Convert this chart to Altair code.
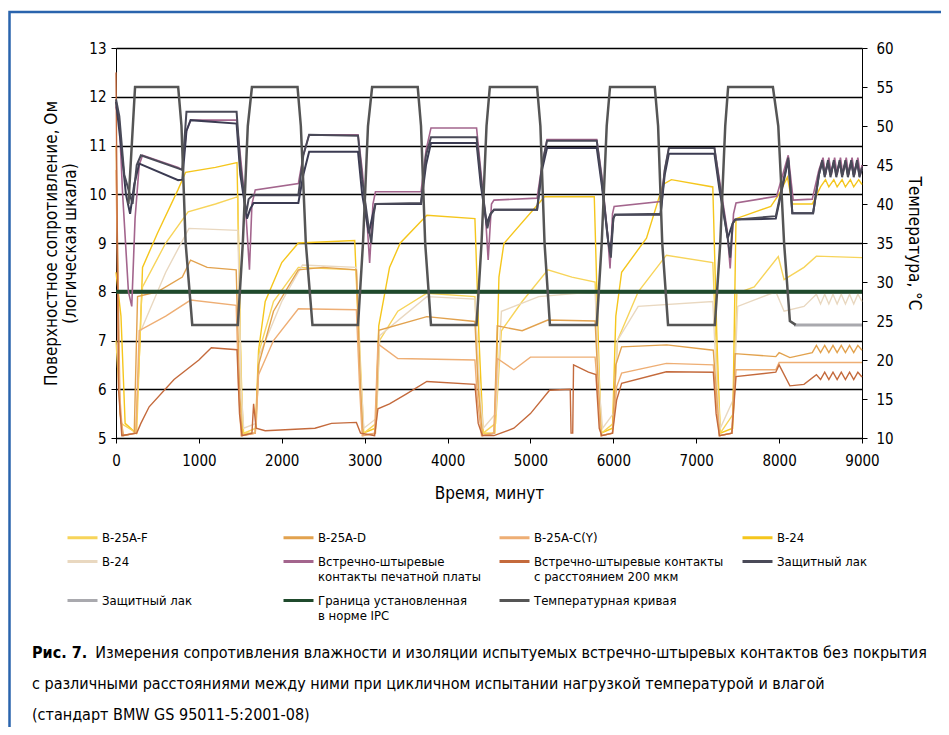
import altair as alt
import pandas as pd

FONT = "DejaVu Sans Condensed, Liberation Sans, sans-serif"
BLANK = "\u2800"  # visually blank glyph used only to pad text widths

# ---- series keys (legend order) ----
K1 = "B-25A-F"
K2 = "B-25A-D"
K3 = "B-25A-C(Y)"
K4 = "B-24"
K5 = "B-24 "
K6 = "Встречно-штыревые|контакты печатной платы"
K7 = "Встречно-штыревые контакты|с расстоянием 200 мкм"
K8 = "Защитный лак"
K9 = "Защитный лак " + BLANK * 8
K10 = "Граница установленная|в норме IPC"
K11 = "Температурная кривая"
KEYS = [K1, K2, K3, K4, K5, K6, K7, K8, K9, K10, K11]
COLORS = ["#f7d45a", "#e2a24e", "#eeae74", "#f5c61c", "#e9d8c0", "#a3658d",
          "#c46a3c", "#4a4a58", "#a9a9ae", "#1f4a2c", "#555555"]

# ---- resistance series (time, log value) ----
B24_TOP = [(0, 8.4), (60, 7.5), (110, 5.3), (240, 5.1), (290, 7.0), (320, 8.5), (500, 9.2), (750, 10.1),
           (840, 10.45), (1200, 10.55), (1460, 10.65), (1500, 7.0), (1530, 5.1), (1680, 5.1), (1720, 6.8),
           (1800, 7.8), (2000, 8.6), (2200, 9.0), (2880, 9.05), (2930, 7.0), (2980, 5.1), (3130, 5.2),
           (3170, 7.3), (3300, 8.5), (3430, 9.0), (3750, 9.57), (4330, 9.5), (4380, 7.0), (4430, 5.1),
           (4570, 5.1), (4620, 8.3), (4680, 8.99), (5170, 9.95), (5770, 9.95), (5810, 7.5), (5850, 5.1),
           (5990, 5.2), (6030, 7.5), (6100, 8.4), (6400, 9.1), (6600, 10.2), (6700, 10.3), (7200, 10.15),
           (7250, 7.0), (7290, 5.1), (7440, 5.2), (7480, 9.5), (7900, 9.75), (8000, 10.0), (8100, 10.35),
           (8160, 9.8), (8400, 9.8), (8500, 10.15), (8560, 10.3), (8600, 10.15), (8660, 10.3), (8700, 10.15),
           (8760, 10.3), (8800, 10.15), (8860, 10.3), (8900, 10.15), (8960, 10.3), (9000, 10.2)]

B25F = [(0, 7.0), (60, 5.3), (250, 5.1), (300, 7.6), (320, 8.1), (600, 9.0), (870, 9.64), (1200, 9.8),
        (1470, 9.95), (1510, 6.0), (1540, 5.1), (1690, 5.2), (1730, 6.8), (1900, 7.8), (2200, 8.5),
        (2900, 8.45), (2950, 6.5), (2990, 5.1), (3140, 5.3), (3180, 7.0), (3400, 7.6), (3750, 7.97),
        (4330, 7.9), (4380, 6.0), (4430, 5.1), (4580, 5.3), (4650, 7.2), (4900, 7.8), (5210, 8.45),
        (5500, 8.3), (5780, 8.2), (5820, 6.5), (5860, 5.1), (6000, 5.3), (6050, 7.0), (6300, 8.0),
        (6640, 8.75), (7200, 8.6), (7250, 6.5), (7290, 5.1), (7450, 5.5), (7490, 7.97), (7700, 8.1),
        (7990, 8.72), (8060, 8.25), (8300, 8.5), (8450, 8.73), (9000, 8.7)]

B24_BEIGE = [(300, 7.2), (600, 8.4), (880, 9.3), (1470, 9.26), (1510, 6.0), (1540, 5.2), (1690, 5.3),
             (1730, 6.7), (2000, 7.8), (2250, 8.55), (2900, 8.5), (2950, 6.3), (2990, 5.2), (3140, 5.4),
             (3180, 7.1), (3750, 7.9), (4330, 7.85), (4380, 6.2), (4430, 5.2), (4580, 5.5), (4650, 7.6),
             (5100, 7.9), (5780, 8.0), (5830, 6.0), (5870, 5.2), (6000, 5.5), (6050, 7.0), (6300, 7.7),
             (7200, 7.8), (7250, 6.0), (7290, 5.2), (7450, 5.8), (7500, 7.7), (7960, 8.0), (8060, 7.6),
             (8300, 7.7), (8450, 7.95), (8500, 7.75), (8550, 7.95), (8600, 7.75), (8650, 7.95),
             (8700, 7.75), (8750, 7.95), (8800, 7.75), (8850, 7.95), (8900, 7.75), (8950, 7.95), (9000, 7.8)]

B25D = [(0, 11.0), (50, 5.5), (90, 5.05), (220, 5.1), (260, 7.9), (500, 8.0), (800, 8.3), (900, 8.65),
        (1100, 8.5), (1450, 8.45), (1490, 6.0), (1520, 5.05), (1680, 5.1), (1720, 6.5), (1900, 7.6),
        (2200, 8.45), (2500, 8.5), (2900, 8.45), (2950, 6.0), (2980, 5.05), (3130, 5.1), (3170, 7.21),
        (3750, 7.49), (4330, 7.39), (4370, 6.0), (4420, 5.05), (4560, 5.1), (4600, 7.3), (4900, 7.2),
        (5210, 7.42), (5780, 7.4), (5820, 6.0), (5850, 5.05), (5990, 5.1), (6030, 6.5), (6100, 6.87),
        (6644, 6.91), (7206, 6.8), (7240, 6.0), (7280, 5.05), (7430, 5.1), (7470, 6.73), (7960, 6.67),
        (8000, 6.75), (8130, 6.65), (8400, 6.75), (8450, 6.9), (8500, 6.75), (8550, 6.9), (8600, 6.75),
        (8650, 6.9), (8700, 6.75), (8750, 6.9), (8800, 6.75), (8850, 6.9), (8900, 6.75), (8950, 6.9),
        (9000, 6.8)]

B25C = [(0, 10.5), (40, 6.0), (80, 5.05), (240, 5.1), (280, 7.2), (600, 7.5), (900, 7.83), (1450, 7.72),
        (1480, 6.0), (1510, 5.05), (1680, 5.1), (1720, 6.3), (1900, 7.0), (2200, 7.65), (2900, 7.63),
        (2940, 6.0), (2970, 5.05), (3120, 5.1), (3160, 6.93), (3400, 6.63), (4330, 6.6), (4360, 5.8),
        (4410, 5.05), (4560, 5.1), (4600, 6.63), (4800, 6.4), (5000, 6.66), (5780, 6.66), (5820, 5.8),
        (5850, 5.05), (5990, 5.1), (6040, 6.05), (6100, 6.33), (6640, 6.53), (7206, 6.5), (7240, 5.8),
        (7280, 5.05), (7430, 5.1), (7480, 6.4), (7960, 6.4), (8000, 6.55), (9000, 6.55)]

IDC200 = [(0, 12.5), (30, 6.0), (70, 5.05), (250, 5.1), (300, 5.3), (400, 5.64), (700, 6.2), (1000, 6.6),
          (1150, 6.85), (1460, 6.81), (1490, 5.5), (1520, 5.05), (1640, 5.1), (1660, 5.7), (1690, 5.2),
          (1800, 5.15), (2400, 5.2), (2600, 5.3), (2900, 5.32), (2950, 5.1), (3120, 5.05), (3160, 5.6),
          (3300, 5.7), (3500, 5.9), (3750, 6.16), (4330, 6.1), (4370, 5.3), (4420, 5.05), (4560, 5.05),
          (4800, 5.2), (5000, 5.5), (5230, 5.98), (5480, 6.0), (5490, 5.1), (5510, 5.1), (5520, 6.5),
          (5700, 6.35), (5790, 6.3), (5830, 5.2), (5860, 5.05), (5990, 5.1), (6040, 5.78), (6100, 6.12),
          (6640, 6.36), (7206, 6.35), (7240, 5.5), (7280, 5.05), (7430, 5.1), (7480, 6.26), (7960, 6.35),
          (8000, 6.5), (8130, 6.07), (8300, 6.1), (8450, 6.3), (8500, 6.2), (8550, 6.35), (8600, 6.2),
          (8650, 6.35), (8700, 6.2), (8750, 6.35), (8800, 6.2), (8850, 6.35), (8900, 6.2), (8950, 6.35),
          (9000, 6.25)]

PCB = [(0, 11.8), (40, 11.5), (80, 10.0), (150, 8.0), (190, 7.7), (230, 9.5), (280, 10.6), (320, 10.8),
       (750, 10.55), (800, 10.5), (850, 11.3), (900, 11.52), (1455, 11.52), (1500, 10.8), (1560, 9.8),
       (1590, 9.0), (1610, 8.45), (1640, 9.8), (1680, 10.09), (2200, 10.22), (2260, 10.8), (2330, 11.22),
       (2920, 11.22), (2970, 10.5), (3030, 9.4), (3060, 8.59), (3100, 9.8), (3130, 10.05), (3680, 10.05),
       (3740, 10.9), (3800, 11.36), (4350, 11.36), (4400, 10.5), (4460, 9.5), (4490, 8.65), (4530, 9.8),
       (4560, 9.88), (5080, 9.92), (5140, 10.6), (5200, 11.12), (5800, 11.12), (5860, 10.4), (5930, 9.2),
       (5960, 8.48), (5990, 9.6), (6010, 9.75), (6570, 9.85), (6620, 10.5), (6670, 10.95), (7220, 10.95),
       (7280, 10.3), (7370, 9.3), (7410, 8.48), (7450, 9.6), (7480, 9.82), (7970, 9.96), (8110, 10.8),
       (8170, 9.88), (8400, 9.9), (8480, 10.5), (8530, 10.75), (8560, 10.4), (8600, 10.75), (8630, 10.4),
       (8670, 10.75), (8700, 10.4), (8740, 10.75), (8770, 10.4), (8810, 10.75), (8840, 10.4),
       (8880, 10.75), (8910, 10.4), (8950, 10.75), (8980, 10.4), (9000, 10.6)]

LACQ = [(0, 11.95), (40, 11.6), (100, 10.4), (150, 10.1), (200, 9.8), (250, 10.6), (300, 10.8), (750, 10.53),
        (800, 10.5), (850, 11.69), (1455, 11.69), (1500, 10.6), (1570, 9.6), (1600, 9.9), (1650, 9.98),
        (2200, 9.98), (2260, 10.8), (2330, 11.22), (2920, 11.2), (2970, 10.3), (3050, 9.3), (3080, 9.0),
        (3110, 9.6), (3130, 9.8), (3680, 9.82), (3740, 10.8), (3800, 11.17), (4350, 11.17), (4410, 10.2),
        (4480, 9.3), (4520, 9.6), (4560, 9.68), (5080, 9.68), (5140, 10.6), (5200, 11.1), (5800, 11.1),
        (5860, 10.3), (5940, 9.0), (5970, 8.7), (6000, 9.5), (6020, 9.58), (6570, 9.6), (6620, 10.5),
        (6670, 10.95), (7220, 10.95), (7280, 10.2), (7380, 9.1), (7410, 8.7), (7440, 9.4), (7470, 9.48),
        (7960, 9.55), (8110, 10.75), (8160, 9.61), (8410, 9.61), (8480, 10.4), (8520, 10.7), (8550, 10.35),
        (8590, 10.7), (8620, 10.35), (8660, 10.7), (8690, 10.35), (8730, 10.7), (8760, 10.35),
        (8800, 10.7), (8830, 10.35), (8870, 10.7), (8900, 10.35), (8940, 10.7), (8970, 10.35), (9000, 10.55)]

LACQ_B = [(0, 11.9), (60, 11.0), (120, 10.0), (170, 9.6), (220, 10.2), (280, 10.63), (750, 10.29),
          (800, 10.3), (850, 11.3), (900, 11.52), (1455, 11.45), (1500, 10.4), (1580, 9.5), (1620, 9.7),
          (1660, 9.82), (2200, 9.82), (2260, 10.4), (2330, 10.87), (2920, 10.87), (2970, 10.0), (3050, 9.2),
          (3100, 9.6), (3130, 9.8), (3680, 9.8), (3740, 10.6), (3800, 11.05), (4350, 11.05), (4400, 10.2),
          (4470, 9.4), (4520, 9.6), (4560, 9.68), (5080, 9.68), (5140, 10.5), (5200, 10.95), (5800, 10.95),
          (5860, 10.2), (5940, 9.0), (5970, 8.9), (6000, 9.5), (6020, 9.58), (6570, 9.58), (6620, 10.4),
          (6670, 10.83), (7220, 10.83), (7280, 10.1), (7380, 9.1), (7440, 9.4), (7470, 9.48), (7960, 9.5),
          (8110, 10.7), (8160, 9.61), (8410, 9.61), (8480, 10.4), (8520, 10.65), (8550, 10.4), (8590, 10.65),
          (8620, 10.4), (8660, 10.65), (8690, 10.4), (8730, 10.65), (8760, 10.4), (8800, 10.65),
          (8830, 10.4), (8870, 10.65), (8900, 10.4), (8940, 10.65), (8970, 10.4), (9000, 10.5)]

LACQ_LIGHT = [(8180, 7.32), (9000, 7.32)]
IPC_LIMIT = [(0, 8.0), (9000, 8.0)]

# ---- temperature curve (time, °C) ----
TEMP = [(150, 40), (230, 55), (750, 55), (790, 50), (840, 35), (920, 24.5), (1470, 24.5),
        (1530, 35), (1590, 50), (1640, 55), (2190, 55), (2230, 50), (2290, 35), (2370, 24.5), (2920, 24.5),
        (2980, 35), (3040, 50), (3090, 55), (3640, 55), (3680, 50), (3730, 35), (3800, 24.5), (4350, 24.5),
        (4410, 35), (4470, 50), (4510, 55), (5080, 55), (5120, 50), (5170, 35), (5235, 24.5), (5800, 24.5),
        (5860, 35), (5920, 50), (5960, 55), (6500, 55), (6540, 50), (6590, 35), (6660, 24.5), (7225, 24.5),
        (7290, 35), (7350, 50), (7385, 55), (7925, 55), (7990, 50), (8060, 35), (8130, 25), (8200, 24.5)]


def frame(key, pts, group):
    return pd.DataFrame({"series": key, "t": [p[0] for p in pts], "v": [p[1] for p in pts], "g": group})


df = pd.concat([
    frame(K4, B24_TOP, "thin"), frame(K1, B25F, "thin"), frame(K5, B24_BEIGE, "thin"),
    frame(K2, B25D, "thin"), frame(K3, B25C, "thin"), frame(K7, IDC200, "thin"),
    frame(K10, IPC_LIMIT, "green"), frame(K6, PCB, "purple"), frame(K8, LACQ, "dark"),
    frame(K9, LACQ_LIGHT, "light"), frame("extra", LACQ_B, "extra"), frame(K11, TEMP, "temp"),
], ignore_index=True)

base = alt.Chart(df)

x_enc = alt.X("t:Q", scale=alt.Scale(domain=[0, 9000], nice=False),
              axis=alt.Axis(values=list(range(0, 9001, 1000)), format="d", title="Время, минут",
                            grid=False, domainColor="black", tickColor="black", tickSize=5,
                            labelColor="black", labelFont=FONT, labelFontSize=15, labelPadding=10,
                            labelFlush=False, titleFont=FONT, titleFontSize=17,
                            titleFontWeight="normal", titleColor="black", titlePadding=17))
y_left = alt.Y("v:Q", scale=alt.Scale(domain=[5, 13], nice=False, zero=False),
               axis=alt.Axis(values=list(range(5, 14)), grid=True, gridColor="black", gridWidth=1.3,
                             gridOpacity=1, domainColor="black", tickColor="black", tickSize=5,
                             labelColor="black", labelFont=FONT, labelFontSize=15, labelPadding=5,
                             title=["Поверхностное сопротивление, Ом", "(логическая шкала)"],
                             titleFont=FONT, titleFontSize=17, titleFontWeight="normal",
                             titleColor="black", titlePadding=9))
y_right = alt.Y("v:Q", scale=alt.Scale(domain=[10, 60], nice=False, zero=False),
                axis=alt.Axis(orient="right", values=list(range(10, 61, 5)), grid=False,
                              domainColor="black", tickColor="black", tickSize=5, labelColor="black",
                              labelFont=FONT, labelFontSize=15, labelPadding=9,
                              title="Температура, °C", titleFont=FONT, titleFontSize=17,
                              titleFontWeight="normal", titleColor="black", titlePadding=11))

color_enc = alt.Color("series:N", scale=alt.Scale(domain=KEYS, range=COLORS),
                      legend=alt.Legend(orient="none", legendX=-50, legendY=473, columns=4,
                                        direction="horizontal", title=None, symbolType="stroke",
                                        symbolSize=900, symbolStrokeWidth=3, columnPadding=12,
                                        rowPadding=0, labelFont=FONT, labelFontSize=13,
                                        labelColor="black", labelLimit=400, labelOffset=3,
                                        labelExpr="split(datum.label, '|')"))


def lines(group, width):
    return base.transform_filter(alt.datum.g == group).mark_line(strokeWidth=width).encode(
        x=x_enc, y=y_left, color=color_enc)


border = alt.Chart(pd.DataFrame({"a": [0]})).mark_rect(
    filled=False, stroke="#2a64ad", strokeWidth=2.5
).encode(x=alt.value(-106.5), x2=alt.value(830), y=alt.value(-36), y2=alt.value(682))

extra = base.transform_filter(alt.datum.g == "extra").mark_line(strokeWidth=2, color="#3b3b52").encode(
    x=x_enc, y=y_left)

left = alt.layer(
    border,
    lines("thin", 1.4),
    lines("green", 4),
    lines("light", 3),
    lines("purple", 1.6),
    extra,
    lines("dark", 2),
)

temp = base.transform_filter(alt.datum.g == "temp").mark_line(strokeWidth=2.5).encode(
    x=x_enc, y=y_right, color=color_enc)

caption = [
    BLANK * 6 + "Измерения сопротивления влажности и изоляции испытуемых встречно-штыревых контактов без покрытия",
    "с различными расстояниями между ними при цикличном испытании нагрузкой температурой и влагой",
    "(стандарт BMW GS 95011-5:2001-08)",
]

chart = alt.layer(left, temp).resolve_scale(y="independent").properties(
    width=746, height=390,
    autosize=alt.AutoSizeParams(type="none"),
    padding={"left": 108, "top": 40, "right": 79, "bottom": 289},
    title=alt.TitleParams(text="Рис. 7.", subtitle=caption, orient="bottom", anchor="start",
                          frame="group", dx=-84, offset=-86, font=FONT, fontSize=16,
                          fontWeight="bold", color="black", subtitleFont=FONT, subtitleFontSize=16,
                          subtitleColor="black", subtitleLineHeight=31, subtitlePadding=-16),
).configure_view(stroke=None).configure(background="white")

chart.save("out.html", embed_options={"renderer": "svg", "actions": False})
